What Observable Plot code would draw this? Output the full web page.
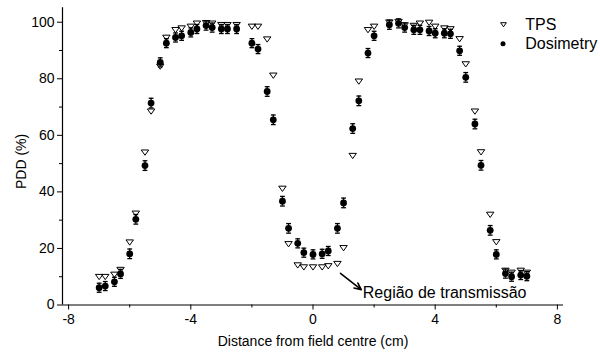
<!DOCTYPE html>
<html><head><meta charset="utf-8">
<script src="https://cdn.jsdelivr.net/npm/d3@7"></script>
<script src="https://cdn.jsdelivr.net/npm/@observablehq/plot@0.6"></script>
<style>
body{margin:0;background:#fff;}
#chart{width:600px;height:356px;}
</style>
</head><body><div id="chart"></div>
<script>
const positions = [-7.0,-6.8,-6.5,-6.3,-6.0,-5.8,-5.5,-5.3,-5.0,-4.8,-4.5,-4.3,-4.0,-3.8,-3.5,-3.3,-3.0,-2.8,-2.5,-2.0,-1.8,-1.5,-1.3,-1.0,-0.8,-0.5,-0.3,0,0.3,0.5,0.8,1.0,1.3,1.5,1.8,2.0,2.5,2.8,3.0,3.3,3.5,3.8,4.0,4.3,4.5,4.8,5.0,5.3,5.5,5.8,6.0,6.3,6.5,6.8,7.0];
const dosimetry = [6.1,6.7,8.2,11.0,18.1,30.3,49.3,71.4,85.8,92.6,94.6,95.2,96.4,97.6,98.8,98.1,97.6,97.6,97.6,92.6,90.5,75.5,65.5,36.7,27.1,21.8,18.5,17.9,18.1,19.1,27.1,36.1,62.4,72.2,89.1,95.2,99.1,99.6,98.1,97.3,97.3,96.9,96.1,96.1,95.9,89.9,80.5,64.0,49.4,26.4,17.9,11.1,10.0,10.6,10.2];
const dosimetryError = [1.6,1.6,1.6,1.6,1.7,1.7,1.7,1.7,1.6,1.6,1.6,1.6,1.6,1.6,1.6,1.6,1.6,1.6,1.6,1.6,1.6,1.7,1.7,1.7,1.7,1.6,1.6,1.6,1.6,1.6,1.7,1.7,1.7,1.7,1.6,1.6,1.6,1.6,1.6,1.6,1.6,1.6,1.6,1.6,1.6,1.6,1.7,1.7,1.7,1.7,1.6,1.6,1.6,1.6,1.6];
const tps = [10.0,10.0,10.8,12.5,22.2,32.4,54.0,68.5,84.4,94.6,97.3,97.9,98.5,99.6,99.8,99.6,99.1,99.1,99.1,98.5,98.5,94.0,81.2,41.2,21.6,14.1,13.4,13.4,13.4,13.8,14.6,20.2,52.8,79.1,97.3,98.5,100.0,100.2,99.0,98.8,99.6,99.9,98.5,97.9,97.6,94.1,85.2,68.5,54.1,32.0,22.3,12.2,11.5,12.2,11.5];
const xTicks = [-8,-4,0,4,8];
const xMinorTicks = [-6,-2,2,6];
const yTicks = [0,20,40,60,80,100];
const yMinorTicks = [10,30,50,70,90];
const xDomain = [-8.2, 8.2];
const yDomain = [0, 105.1];
const seriesNames = ["TPS","Dosimetry"];
const xTitle = ["Distance from field centre (cm)"];
const yTitle = ["PDD (%)"];
const annotationText = ["Região de transmissão"];
const annotationTextAt = [1.63, 4.2];
const annotationArrowFrom = [0.9, 11.2];
const annotationArrowTo = [1.58, 5.4];

const data = positions.map((x, i) => ({x, dos: dosimetry[i], err: dosimetryError[i], tps: tps[i]}));

const triDown = {draw(ctx, size){ const k = Math.sqrt(size/Math.PI); ctx.moveTo(-1.2*k,-0.75*k); ctx.lineTo(1.2*k,-0.75*k); ctx.lineTo(0,0.95*k); ctx.closePath(); }};
const cap = {draw(ctx, size){ const k = Math.sqrt(size/Math.PI); ctx.moveTo(-k,0); ctx.lineTo(k,0); }};

const chart = Plot.plot({
  width: 600,
  height: 356,
  marginLeft: 62,
  marginRight: 37,
  marginTop: 7.3,
  marginBottom: 51.5,
  style: {fontFamily: "'Liberation Sans', Arial, sans-serif", fontSize: "14px", background: "white", color: "black"},
  x: {domain: xDomain},
  y: {domain: yDomain},
  marks: [
    Plot.axisX({ticks: xTicks, tickSize: 5, tickPadding: 4, fontSize: 14, tickFormat: d => String(d), label: null}),
    Plot.axisX({ticks: xMinorTicks, tickSize: 3, tickFormat: () => "", label: null}),
    Plot.axisY({ticks: yTicks, tickSize: 5, tickPadding: 3, fontSize: 14, tickFormat: d => String(d), label: null}),
    Plot.axisY({ticks: yMinorTicks, tickSize: 3, tickFormat: () => "", label: null}),
    Plot.ruleY([yDomain[0]], {stroke: "black", strokeWidth: 1.2}),
    Plot.ruleX([xDomain[0]], {stroke: "black", strokeWidth: 1.2}),
    Plot.dot(data, {x: "x", y: "tps", symbol: triDown, r: 3.1, stroke: "black", fill: "none", strokeWidth: 1}),
    Plot.ruleX(data, {x: "x", y1: d => d.dos - d.err, y2: d => d.dos + d.err, stroke: "black", strokeWidth: 1.3}),
    Plot.dot(data, {x: "x", y: d => d.dos + d.err, symbol: cap, r: 2.4, stroke: "black", strokeWidth: 1.3}),
    Plot.dot(data, {x: "x", y: d => d.dos - d.err, symbol: cap, r: 2.4, stroke: "black", strokeWidth: 1.3}),
    Plot.dot(data, {x: "x", y: "dos", r: 3.4, fill: "black", stroke: "none"}),
    // legend
    Plot.dot([seriesNames[0]], {frameAnchor: "top-right", dx: -60, dy: 16.7, symbol: triDown, r: 2.4, stroke: "black", fill: "none", strokeWidth: 1}),
    Plot.dot([seriesNames[1]], {frameAnchor: "top-right", dx: -60.5, dy: 36, r: 2.5, fill: "black"}),
    Plot.text([seriesNames[0]], {text: d => d, frameAnchor: "top-right", dx: -38.3, dy: 17.2, textAnchor: "start", lineAnchor: "middle", fontSize: 16}),
    Plot.text([seriesNames[1]], {text: d => d, frameAnchor: "top-right", dx: -38.3, dy: 36.5, textAnchor: "start", lineAnchor: "middle", fontSize: 16}),
    // annotation
    Plot.arrow([0], {x1: () => annotationArrowFrom[0], y1: () => annotationArrowFrom[1], x2: () => annotationArrowTo[0], y2: () => annotationArrowTo[1], stroke: "black", strokeWidth: 1.6, headLength: 7, headAngle: 50}),
    Plot.text(annotationText, {text: d => d, x: () => annotationTextAt[0], y: () => annotationTextAt[1], textAnchor: "start", lineAnchor: "middle", fontSize: 16}),
    // axis titles
    Plot.text(xTitle, {text: d => d, frameAnchor: "bottom", dy: 36.5, textAnchor: "middle", lineAnchor: "middle", fontSize: 14}),
    Plot.text(yTitle, {text: d => d, frameAnchor: "left", dx: -41, dy: 5, rotate: -90, textAnchor: "middle", lineAnchor: "middle", fontSize: 14})
  ]
});
document.getElementById("chart").appendChild(chart);
</script>
</body></html>
